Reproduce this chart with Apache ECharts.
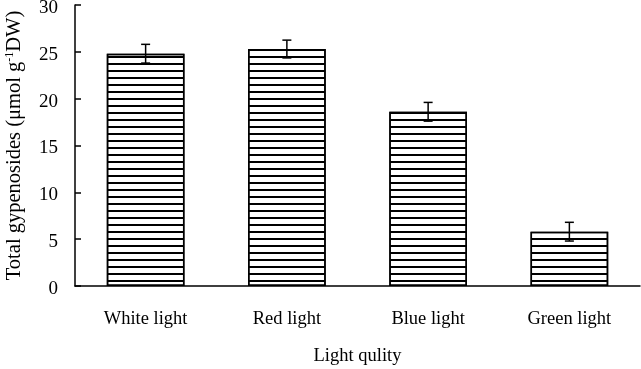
<!DOCTYPE html>
<html><head><meta charset="utf-8">
<script src="https://cdn.jsdelivr.net/npm/echarts@6/dist/echarts.min.js"></script>
<style>html,body{margin:0;padding:0;background:#fff}#c{width:641px;height:369px}</style>
</head><body><div id="c"></div>
<script>
var categories = ['White light', 'Red light', 'Blue light', 'Green light'];
var values = [24.8, 25.3, 18.6, 5.8];
var errors = [1.0, 0.95, 1.0, 1.0];
var yTicks = [0, 5, 10, 15, 20, 25, 30];

var chart = echarts.init(document.getElementById('c'), null, {renderer: 'canvas'});
var font = '"Liberation Serif", "Times New Roman", serif';
chart.setOption({
  animation: false,
  grid: {left: 75, right: 1, top: 5, bottom: 83, containLabel: false, outerBoundsMode: 'none'},
  xAxis: {
    type: 'category', data: categories,
    axisLine: {lineStyle: {color: '#000', width: 1.5}},
    axisTick: {inside: true, length: 6, lineStyle: {color: '#000', width: 1.5}},
    axisLabel: {color: '#000', fontFamily: font, fontSize: 18.5, margin: 24},
    name: 'Light qulity', nameLocation: 'middle', nameGap: 61,
    nameTextStyle: {color: '#000', fontFamily: font, fontSize: 18.5}
  },
  yAxis: {
    type: 'value', min: 0, max: 30, interval: 5,
    axisLine: {show: true, lineStyle: {color: '#000', width: 1.5}},
    axisTick: {show: true, inside: true, length: 6, lineStyle: {color: '#000', width: 1.5}},
    splitLine: {show: false},
    axisLabel: {color: '#000', fontFamily: font, fontSize: 19, margin: 17,
      formatter: function (v) { return yTicks.indexOf(v) >= 0 ? '{t|' + v + '}' : ''; },
      rich: {t: {fontFamily: font, fontSize: 19, color: '#000', padding: [6, 0, 0, 0]}}},
    name: 'Total gypenosides (μmol g{sup|-1}DW)', nameLocation: 'middle', nameGap: 49,
    nameTextStyle: {color: '#000', fontFamily: font, fontSize: 20.5,
      rich: {sup: {fontFamily: font, fontSize: 12, color: '#000', verticalAlign: 'bottom', padding: [0, 0, 10, 0]}}}
  },
  series: [{
    type: 'bar', data: values, barWidth: '55%',
    itemStyle: {
      color: '#fff', borderColor: '#000', borderWidth: 1.5,
      decal: {symbol: 'rect', symbolSize: 1, dashArrayX: [1, 0], dashArrayY: [2, 4.3], rotation: 0, color: '#000'}
    }
  }, {
    type: 'custom',
    data: values.map(function (v, i) { return [i, v - errors[i], v + errors[i]]; }),
    renderItem: function (params, api) {
      var lo = api.coord([api.value(0), api.value(1)]);
      var hi = api.coord([api.value(0), api.value(2)]);
      var hw = 4.5;
      var st = {stroke: '#000', lineWidth: 1.5};
      return {type: 'group', children: [
        {type: 'line', shape: {x1: lo[0], y1: lo[1], x2: hi[0], y2: hi[1]}, style: st},
        {type: 'line', shape: {x1: lo[0] - hw, y1: lo[1], x2: lo[0] + hw, y2: lo[1]}, style: st},
        {type: 'line', shape: {x1: hi[0] - hw, y1: hi[1], x2: hi[0] + hw, y2: hi[1]}, style: st}
      ]};
    },
    z: 10
  }]
});
</script></body></html>
